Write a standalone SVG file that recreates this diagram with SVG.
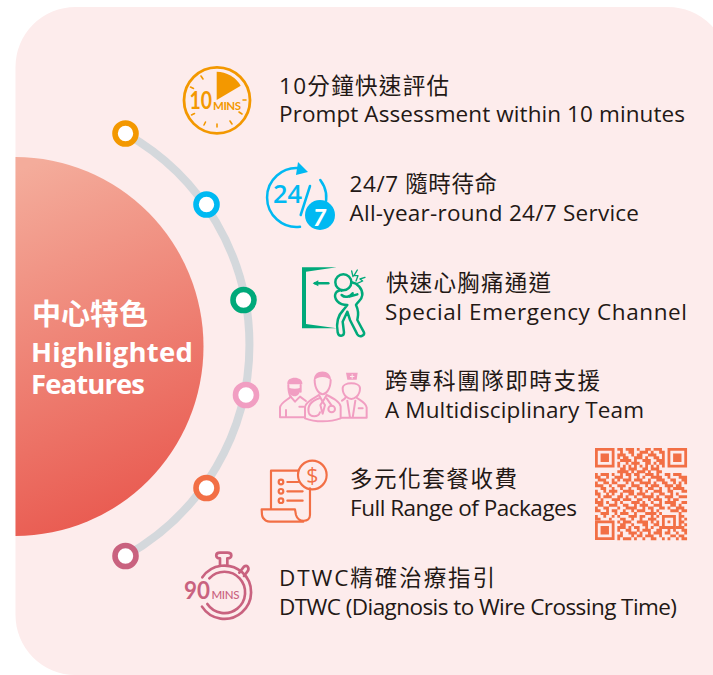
<svg xmlns="http://www.w3.org/2000/svg" width="713" height="675" viewBox="0 0 713 675">
<style>
.t{font-family:"Open Sans","Noto Sans CJK TC",sans-serif;font-size:22.5px;fill:#231815}
.z{font-family:"Open Sans","Noto Sans CJK TC",sans-serif;font-size:22.5px;fill:#231815}
.w{font-family:"Open Sans","Noto Sans CJK TC",sans-serif;font-weight:700;fill:#fff}
.o{fill:none;stroke-linecap:round;stroke-linejoin:round}
.ring{fill:#fff;stroke-width:5.6}
.lato{font-family:"Lato",sans-serif}
</style>
<defs>
<linearGradient id="g" gradientUnits="userSpaceOnUse" x1="30" y1="165" x2="170" y2="500"><stop offset="0" stop-color="#f4ac9b"/><stop offset="1" stop-color="#e95a50"/></linearGradient>
</defs>
<rect width="713" height="675" fill="#fff"/>
<path d="M75.500 7H668A60 60 0 0 1 728 67V675H75.500A60 60 0 0 1 15.500 615V67A60 60 0 0 1 75.500 7Z" fill="#fdecec"/>
<g id="connectors"><path d="M125.500 133.500A242 242 0 0 1 125.500 556" fill="none" stroke="#d4d8dc" stroke-width="8"/></g>
<g id="hub">
<path d="M15.500 157A188 189.500 0 0 1 15.500 536Z" fill="url(#g)"/>
<text class="w" x="32" y="325" font-size="29">中心特色</text>
<text class="w" x="31" y="362" font-size="27.500" textLength="162">Highlighted</text>
<text class="w" x="31" y="394" font-size="27.500" textLength="114">Features</text>
</g>
<g id="dots">
<circle class="ring" cx="125.500" cy="133.500" r="10.500" stroke="#f39800"/>
<circle class="ring" cx="206.500" cy="204.500" r="10.500" stroke="#00b9f2"/>
<circle class="ring" cx="243.500" cy="300" r="10.500" stroke="#00a97a"/>
<circle class="ring" cx="246" cy="395" r="10.500" stroke="#f19ec2"/>
<circle class="ring" cx="206.500" cy="488" r="10.500" stroke="#f26f45"/>
<circle class="ring" cx="125.500" cy="556" r="10.500" stroke="#c9627f"/>
</g>
<g id="item1">
<circle cx="217" cy="100.300" r="33" fill="none" stroke="#f39800" stroke-width="2.800"/>
<path d="M216.700 71.700A28.500 28.500 0 0 1 240.700 85.700L216.700 100Z" fill="#f39800"/>
<path class="o" stroke="#f39800" stroke-width="1.600" d="M201 76l2 3M190.500 87l3 1.500M243 100h3M191.500 115l3-1.500M204 125l1.500-3M217 127v-3M232 124l-2-3M242 114l-3-2"/>
<text class="lato" x="189.500" y="109" font-size="25" font-weight="700" fill="#f39800" textLength="22.500" lengthAdjust="spacingAndGlyphs">10</text>
<text class="lato" x="213" y="110" font-size="11.500" font-weight="700" fill="#f39800" textLength="28">MINS</text>
<text class="z" x="279" y="94" textLength="170">10分鐘快速評估</text>
<text class="t" x="279" y="122" textLength="406">Prompt Assessment within 10 minutes</text>
</g>
<g id="item2">
<g class="o" stroke="#00b9f2" stroke-width="2.500"><path d="M300 168.200A29.500 29.500 0 1 0 300 226.800"/><path d="M320.300 180A29.500 29.500 0 0 1 324.600 207"/><path d="M310 186L300.700 215"/></g>
<path d="M298 162L308 172L296 175Z" fill="#00b9f2"/>
<circle cx="320" cy="215" r="15" fill="#00b9f2"/>
<text x="273" y="203" font-family="Open Sans,sans-serif" font-size="25" font-weight="600" fill="#00b9f2" textLength="29" lengthAdjust="spacingAndGlyphs">24</text>
<text x="313" y="226" font-family="Lato,sans-serif" font-size="23" font-weight="900" font-style="italic" fill="#fff">7</text>
<text class="z" x="349.500" y="192" textLength="147.500">24/7 隨時待命</text>
<text class="t" x="349.500" y="221" textLength="289.500">All-year-round 24/7 Service</text>
</g>
<g id="item3">
<path d="M302 267.300H336.700L306 271.700V324L336.700 328.300H302Z" fill="#00a97a"/>
<g transform="translate(270 255) scale(.3333)">
<g class="o" stroke="#00a97a" stroke-width="7.500">
<path d="M135 85H175"/>
<circle cx="220" cy="82" r="24"/>
<path d="M245 82C262 85 278 100 277 120C276 135 262 140 258 150C270 175 262 190 262 195L282 232C285 243 268 248 262 238L240 195L232 170L218 200L222 232C222 245 206 247 203 232C198 205 205 180 220 165L232 150C205 150 190 130 197 115C200 107 212 105 215 107"/>
<path d="M215 120C225 130 240 125 248 115M238 125L262 118"/>
<path stroke-width="4" d="M262 45L252 62L264 62L258 78M285 67L270 72L278 78L262 85M245 48L249 65"/>
</g>
<path d="M128 85L145 76V94Z" fill="#00a97a"/>
</g>
<text class="z" x="386" y="291" textLength="165">快速心胸痛通道</text>
<text class="t" x="385" y="320" textLength="302">Special Emergency Channel</text>
</g>
<g id="item4">
<g transform="translate(270 255) scale(.3333)">
<g fill="#f19ec2">
<path d="M132 378C128 340 186 340 183 378C175 362 140 362 132 378Z"/>
<path d="M52 388C48 362 100 362 97 388Z"/>
<path d="M55 398C70 402 80 402 92 398C92 415 82 424 74 424C65 424 55 415 55 398Z"/>
<path d="M228 353H263L260 374H232Z"/>
</g>
<path d="M245 358h3v5h5v3h-5v5h-3v-5h-5v-3h5z" fill="#fdecec"/>
<g class="o" stroke="#f19ec2" stroke-width="6">
<path d="M134 375C134 405 150 418 158 418C166 418 182 405 182 375"/>
<path d="M105 490V455C108 440 130 430 147 420L158 440L170 420C190 430 210 440 212 455V490C180 502 135 502 105 490Z"/>
<path d="M158 440L151 450L158 476L165 450Z"/>
<path d="M148 430C125 438 112 452 116 472C120 488 145 488 150 472"/>
<circle cx="185" cy="462" r="10"/>
<path d="M170 430L185 452"/>
<path d="M30 487V458C32 442 55 434 62 425L75 440L90 425L108 438M30 487H102M48 465V487M88 455h12"/>
<path d="M55 390C55 405 55 415 62 425M92 390V410"/>
<path d="M218 400C218 380 270 380 270 400C270 425 250 432 244 432C238 432 218 425 218 400Z"/>
<path d="M216 437C222 433 226 430 228 426M215 488H290V458C288 442 268 435 260 428M232 437L240 488M256 437L248 488M266 460h12"/>
</g>
</g>
<text class="z" x="385" y="389" textLength="215">跨專科團隊即時支援</text>
<text class="t" x="385" y="418" textLength="259">A Multidisciplinary Team</text>
</g>
<g id="item5">
<g transform="translate(170 450) scale(.3333)">
<g class="o" stroke="#f26f45" stroke-width="6.500">
<path d="M303 178V62H385M420 115V195C420 218 385 218 378 195L375 178H275L276 195C278 212 295 215 300 215H400"/>
<circle cx="333" cy="96" r="7"/><circle cx="333" cy="124" r="7"/><circle cx="333" cy="152" r="7"/>
<path d="M352 96H385M352 124H398M352 152H398"/>
<circle cx="427" cy="75" r="43"/>
</g>
<text x="427" y="98" text-anchor="middle" font-family="Open Sans,sans-serif" font-size="64" fill="#f26f45">$</text>
</g>
<text class="z" x="350" y="487" textLength="167">多元化套餐收費</text>
<text class="t" x="350" y="516" textLength="227">Full Range of Packages</text>
<g transform="translate(595 448) scale(2.790)">
<path fill="#f26f45" fill-rule="evenodd" d="M0 0h7v7h-7zM1 1v5h5v-5zM2 2h3v3h-3zM26 0h7v7h-7zM27 1v5h5v-5zM28 2h3v3h-3zM0 26h7v7h-7zM1 27v5h5v-5zM2 28h3v3h-3zM24 24h5v5h-5zM25 25v3h3v-3zM26 26h1v1h-1z"/>
<path fill="none" stroke="#f26f45" stroke-width="1.060" d="M8 .5h2M11 .5h3M15 .5h1M18 .5h2M21 .5h3M9 1.500h1M12 1.500h2M16 1.500h3M20 1.500h1M23 1.500h2M8 2.500h3M13 2.500h1M15 2.500h2M19 2.500h3M24 2.500h1M8 3.500h1M10 3.500h2M14 3.500h3M18 3.500h1M21 3.500h2M24 3.500h1M9 4.500h4M14 4.500h1M17 4.500h3M22 4.500h3M8 5.500h1M11 5.500h1M13 5.500h3M18 5.500h2M21 5.500h1M23 5.500h2M8 6.500h1M10 6.500h1M12 6.500h1M14 6.500h1M16 6.500h1M18 6.500h1M20 6.500h1M22 6.500h1M24 6.500h1M9 7.500h2M12 7.500h3M17 7.500h2M20 7.500h3M8 8.500h4M13 8.500h1M15 8.500h3M19 8.500h1M22 8.500h2M0 9.500h1M2 9.500h3M6 9.500h1M9 9.500h1M11 9.500h2M14 9.500h2M18 9.500h3M22 9.500h1M25 9.500h2M28 9.500h3M0 10.500h2M4 10.500h1M7 10.500h3M12 10.500h1M15 10.500h1M17 10.500h1M20 10.500h4M26 10.500h1M30 10.500h3M1 11.500h3M6 11.500h1M8 11.500h1M10 11.500h3M14 11.500h3M19 11.500h1M22 11.500h3M27 11.500h2M31 11.500h2M0 12.500h1M3 12.500h2M6 12.500h2M11 12.500h1M13 12.500h1M16 12.500h4M21 12.500h1M24 12.500h2M28 12.500h1M30 12.500h1M32 12.500h1M0 13.500h3M5 13.500h1M8 13.500h3M13 13.500h3M18 13.500h1M20 13.500h3M25 13.500h3M29 13.500h2M2 14.500h2M6 14.500h1M9 14.500h1M12 14.500h1M15 14.500h2M19 14.500h2M23 14.500h1M26 14.500h1M28 14.500h4M0 15.500h1M3 15.500h1M5 15.500h3M10 15.500h4M16 15.500h1M18 15.500h1M21 15.500h3M26 15.500h2M31 15.500h2M0 16.500h2M4 16.500h1M6 16.500h1M9 16.500h1M12 16.500h2M15 16.500h3M20 16.500h1M23 16.500h2M27 16.500h1M29 16.500h1M1 17.500h1M3 17.500h3M8 17.500h2M11 17.500h1M14 17.500h1M17 17.500h4M22 17.500h1M25 17.500h3M30 17.500h3M0 18.500h1M2 18.500h1M6 18.500h3M10 18.500h3M15 18.500h2M19 18.500h1M21 18.500h3M26 18.500h1M28 18.500h2M0 19.500h3M4 19.500h1M7 19.500h1M9 19.500h1M13 19.500h3M17 19.500h1M20 19.500h1M23 19.500h1M25 19.500h4M31 19.500h2M1 20.500h2M5 20.500h3M10 20.500h2M14 20.500h1M16 20.500h3M21 20.500h3M27 20.500h2M30 20.500h1M0 21.500h1M3 21.500h2M8 21.500h1M11 21.500h4M17 21.500h1M19 21.500h2M23 21.500h2M26 21.500h1M29 21.500h3M0 22.500h2M4 22.500h1M6 22.500h2M10 22.500h1M13 22.500h1M15 22.500h3M20 22.500h1M22 22.500h1M27 22.500h3M31 22.500h2M2 23.500h3M7 23.500h1M9 23.500h3M14 23.500h1M18 23.500h4M23 23.500h1M30 23.500h1M0 24.500h1M3 24.500h1M6 24.500h1M8 24.500h1M12 24.500h3M16 24.500h2M20 24.500h1M22 24.500h1M30 24.500h2M0 25.500h2M5 25.500h1M9 25.500h2M13 25.500h1M16 25.500h1M19 25.500h3M30 25.500h1M32 25.500h1M8 26.500h1M10 26.500h3M15 26.500h4M20 26.500h1M22 26.500h1M30 26.500h2M9 27.500h2M13 27.500h1M17 27.500h2M21 27.500h2M30 27.500h1M32 27.500h1M8 28.500h3M12 28.500h1M14 28.500h2M18 28.500h1M20 28.500h1M23 28.500h1M29 28.500h3M8 29.500h1M11 29.500h2M15 29.500h1M17 29.500h3M22 29.500h2M26 29.500h1M28 29.500h1M31 29.500h2M9 30.500h1M12 30.500h3M16 30.500h1M19 30.500h1M21 30.500h3M25 30.500h2M29 30.500h1M32 30.500h1M8 31.500h2M13 31.500h1M15 31.500h2M18 31.500h3M23 31.500h1M27 31.500h2M30 31.500h2M8 32.500h1M10 32.500h3M14 32.500h1M17 32.500h1M20 32.500h2M24 32.500h1M26 32.500h1M29 32.500h1M31 32.500h2"/>
</g>
</g>
<g id="item6">
<g transform="translate(170 450) scale(.3333)">
<g class="o" stroke="#c9627f" stroke-width="8">
<path d="M97 382A80 80 0 1 1 96 470"/>
<path d="M118 385A62 62 0 1 1 112 462"/>
<path d="M150 347V325C135 325 135 308 150 308H172C188 308 188 325 172 325V347"/>
<path d="M208 368L222 350C232 342 240 355 232 365L222 378"/>
</g>
</g>
<text class="lato" x="184" y="599" font-size="25" font-weight="700" fill="#c9627f" textLength="26" lengthAdjust="spacingAndGlyphs">90</text>
<text class="lato" x="211.500" y="599" font-size="11.500" font-weight="500" fill="#c9627f" textLength="28">MINS</text>
<text class="z" x="279" y="586" textLength="216">DTWC精確治療指引</text>
<text class="t" x="279" y="615" textLength="398">DTWC (Diagnosis to Wire Crossing Time)</text>
</g>
</svg>
